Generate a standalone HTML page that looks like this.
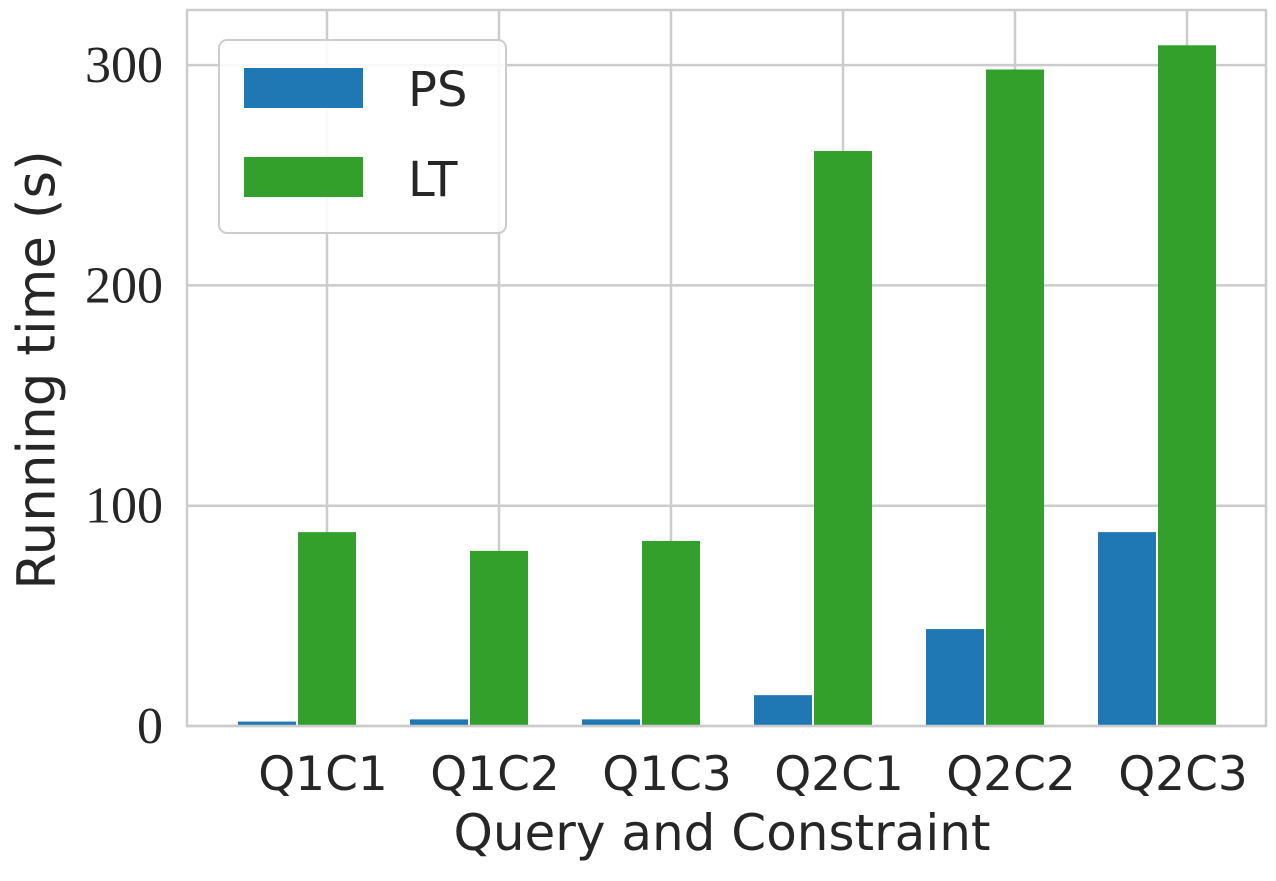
<!DOCTYPE html>
<html><head><meta charset="utf-8"><style>
body{margin:0;background:#fff;}
svg text{fill:#262626;}
</style></head><body>
<svg id="chart" width="1276" height="876" xmlns="http://www.w3.org/2000/svg">
<g id="grid"></g>
<g id="bars"></g>
<rect x="187" y="10" width="1079" height="716" fill="none" stroke="#cccccc" stroke-width="2.5"/>
<g id="yticks"></g>
<g id="xticks"></g>
<text x="40" y="370" transform="rotate(-90 40 370)" text-anchor="middle" dominant-baseline="middle" font-family="'DejaVu Sans','Liberation Sans',sans-serif" font-size="53">Running time (s)</text>
<text x="722" y="850" text-anchor="middle" font-family="'DejaVu Sans','Liberation Sans',sans-serif" font-size="50">Query and Constraint</text>
<g>
<rect x="219" y="40" width="287" height="193" rx="8" fill="#fff" fill-opacity="0.85" stroke="#cccccc" stroke-width="2"/>
<rect x="244" y="68" width="119" height="40" fill="#1f77b4"/>
<text x="408" y="106" font-family="'DejaVu Sans','Liberation Sans',sans-serif" font-size="48">PS</text>
<rect x="244" y="157" width="119" height="40" fill="#33a02c"/>
<text x="408" y="196" font-family="'DejaVu Sans','Liberation Sans',sans-serif" font-size="48">LT</text>
</g>
</svg>
<script>
const categories=["Q1C1","Q1C2","Q1C3","Q2C1","Q2C2","Q2C3"];
const psValues=[2,3,3,14,44,88];
const ltValues=[88,79.5,84,261,298,309];
const yTicks=[0,100,200,300];
const NS="http://www.w3.org/2000/svg";
const plotL=187,plotR=1266,plotT=10,plotB=726;
function yScale(v){return plotB-v*2.203;}
function xScale(i){return 327+i*172;}
const bw=58;
function mk(tag,attrs,parent){const e=document.createElementNS(NS,tag);for(const k in attrs)e.setAttribute(k,attrs[k]);parent.appendChild(e);return e;}
const grid=document.getElementById('grid'),bars=document.getElementById('bars'),yt=document.getElementById('yticks'),xt=document.getElementById('xticks');
yTicks.forEach(t=>{
 const y=yScale(t);
 const l=mk('line',{x1:plotL,x2:plotR,y1:y,y2:y,stroke:'#cccccc','stroke-width':2.5},grid);
 
 
 const tx=mk('text',{x:163,y:y+17,'text-anchor':'end','font-family':"'Liberation Serif',serif",'font-size':52},yt);
 tx.textContent=t;
 
 
});
categories.forEach((c,i)=>{
 const x=xScale(i);
 const l=mk('line',{x1:x,x2:x,y1:plotT,y2:plotB,stroke:'#cccccc','stroke-width':2.5},grid);
 
 
 const p=mk('rect',{x:x-bw*1.5-2,y:yScale(psValues[i]),width:bw,height:plotB-yScale(psValues[i]),fill:'#1f77b4'},bars);
 
 
 const q=mk('rect',{x:x-bw/2,y:yScale(ltValues[i]),width:bw,height:plotB-yScale(ltValues[i]),fill:'#33a02c'},bars);
 
 
 const tx=mk('text',{x:x-4,y:790,'text-anchor':'middle','font-family':"'DejaVu Sans','Liberation Sans',sans-serif",'font-size':47},xt);
 tx.textContent=c;
 
 
});
</script>
</body></html>
